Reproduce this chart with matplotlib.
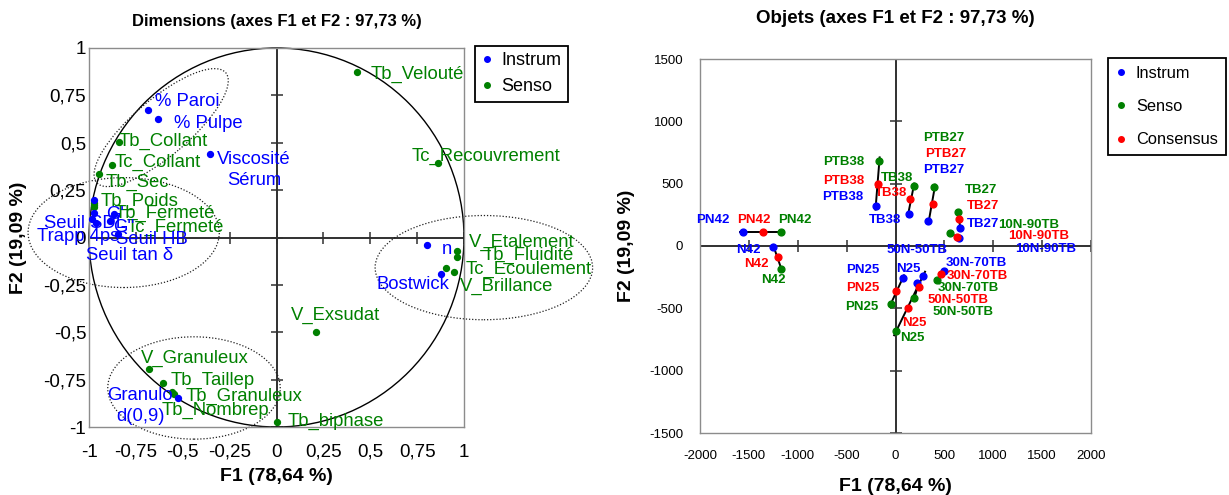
import numpy as np
import matplotlib.pyplot as plt
from matplotlib.patches import Ellipse, Circle
from matplotlib.lines import Line2D

plt.rcParams['font.family'] = ['Liberation Sans', 'DejaVu Sans']
plt.rcParams['axes.unicode_minus'] = False

BLUE = '#0000ff'
GREEN = '#008000'
RED = '#ff0000'

# ---- variables (correlation circle)
var_names = ['% Paroi', '% Pulpe', 'Viscosité\nSérum', 'Tb_Collant', 'Tc_Collant', 'Tb_Sec',
             'Tb_Poids', 'Tc_Fermeté', 'Tb_Fermeté', '', 'Seuil SDL', 'Trapp 4ps', 'Seuil tan δ',
             "G'", "G''", 'Seuil HB', 'Tb_Velouté', 'Tc_Recouvrement', 'n', 'V_Etalement',
             'Tb_Fluidité', 'Tc_Ecoulement', 'V_Brillance', 'Bostwick', 'V_Exsudat',
             'V_Granuleux', 'Tb_Taillep', 'Tb_Granuleux', 'Tb_Nombrep', 'Granulo\nd(0,9)',
             'Tb_biphase']
var_f1 = [-0.683, -0.630, -0.354, -0.841, -0.880, -0.947,
          -0.974, -0.974, -0.974, -0.974, -0.974, -0.984, -0.963,
          -0.868, -0.889, -0.843, 0.429, 0.859, 0.800, 0.963,
          0.963, 0.906, 0.949, 0.875, 0.212,
          -0.679, -0.605, -0.545, -0.560, -0.524,
          0.002]
var_f2 = [0.674, 0.624, 0.441, 0.506, 0.383, 0.337,
          0.180, 0.169, 0.159, 0.197, 0.127, 0.095, 0.074,
          0.122, 0.085, 0.016, 0.871, 0.392, -0.039, -0.072,
          -0.102, -0.160, -0.184, -0.192, -0.501,
          -0.695, -0.769, -0.824, -0.815, -0.847,
          -0.972]
var_group = ['I', 'I', 'I', 'S', 'S', 'S',
             'S', 'S', 'S', 'I', 'I', 'I', 'I',
             'I', 'I', 'I', 'S', 'S', 'I', 'S',
             'S', 'S', 'S', 'I', 'S',
             'S', 'S', 'S', 'S', 'I',
             'S']
# label offsets (pixels, label centre relative to its point)
var_offsets = [(39, 8), (50, -4), (44, -16), (44, 0), (46, 3), (38, -9),
               (46, 2), (81, -22), (71, -6), (0, 0), (-9, -10), (-14, -17), (34, -32),
               (1, 0), (14, -6), (33, -5), (60, -2), (48, 7), (20, -5), (65, 9),
               (71, 1), (82, -2), (52, -14), (-28, -11), (19, 17),
               (46, 11), (50, 3), (70, -3), (44, -18), (-38, -8),
               (59, 0)]

# ---- objects
obj_names = ['PN42', 'N42', 'PTB38', 'TB38', 'PTB27', 'TB27', '10N-90TB',
             '50N-50TB', '30N-70TB', 'PN25', 'N25']
instrum_f1 = [-1557, -1250, -203, 135, 336, 663, 653, 223, 499, 80, 278]
instrum_f2 = [110, -8, 321, 254, 200, 147, 67, -299, -198, -254, -240]
senso_f1 = [-1168, -1171, -166, 193, 397, 636, 557, 192, 427, -46, 5]
senso_f2 = [110, -187, 682, 481, 471, 275, 102, -415, -273, -468, -679]
cons_f1 = [-1352, -1199, -182, 148, 380, 650, 626, 243, 465, 5, 131]
cons_f2 = [110, -91, 495, 377, 334, 214, 75, -326, -227, -361, -495]

instrum_off = [(-30, 12), (-25, -3), (-33, 9), (-24, -6), (15, 51), (23, 4), (86, -11),
               (0, 33), (32, 8), (-41, 8), (-14, 7)]
senso_off = [(13, 12), (-8, -11), (-36, -1), (-17, 8), (9, 49), (23, 22), (79, 8),
             (49, -14), (31, -8), (-29, -3), (16, -7)]
cons_off = [(-10, 12), (-22, -7), (-34, 3), (-19, 6), (13, 50), (24, 13), (82, 1),
            (39, -13), (36, -2), (-33, 3), (6, -15)]

fig = plt.figure(figsize=(12.29, 4.95), dpi=100)
ax1 = fig.add_axes([89 / 1229, 1 - 427 / 495, 375 / 1229, 379 / 495])
ax2 = fig.add_axes([700 / 1229, 1 - 433 / 495, 391 / 1229, 374 / 495])


def frame(ax, xt, yt, ticksize, xpad, ypad):
    for s in ax.spines.values():
        s.set_color('#8c8c8c')
        s.set_linewidth(1.0)
    ax.tick_params(length=0, labelsize=ticksize)
    ax.tick_params(axis='x', pad=xpad)
    ax.tick_params(axis='y', pad=ypad)
    ax.axhline(0, color='#303030', lw=1.4, zorder=1)
    ax.axvline(0, color='#303030', lw=1.4, zorder=1)
    ax.plot(xt, np.zeros(len(xt)), ls='none', marker='|', ms=9, mew=1.1, color='#303030', zorder=1)
    ax.plot(np.zeros(len(yt)), yt, ls='none', marker='_', ms=9, mew=1.1, color='#303030', zorder=1)


# ---------- left: correlation circle
ticks1 = np.arange(-1, 1.01, 0.25)
ax1.set_xlim(-1, 1)
ax1.set_ylim(-1, 1)
frame(ax1, ticks1, ticks1, 13.5, 12, 2)
ax1.set_xticks(ticks1)
ax1.set_yticks(ticks1)
lab1 = [f'{v:g}'.replace('.', ',') for v in ticks1]
ax1.set_xticklabels(lab1)
ax1.set_yticklabels(lab1)
ax1.add_patch(Circle((0, 0), 1, fill=False, color='black', lw=1.0, clip_on=False))

ellipses = [((-0.615, 0.58), 0.9, 0.3, 40), ((-0.815, 0.026), 1.02, 0.58, 0),
            ((1.106, -0.159), 1.16, 0.55, 0), ((-0.44, -0.794), 0.92, 0.54, 0)]
for c, w, h, a in ellipses:
    ax1.add_patch(Ellipse(c, w, h, angle=a, fill=False, ls=(0, (1, 1.5)), lw=0.9,
                          color='#202020', clip_on=False))

gcol = {'I': BLUE, 'S': GREEN}
for name, x, y, g, off in zip(var_names, var_f1, var_f2, var_group, var_offsets):
    ax1.scatter(x, y, s=18, color=gcol[g], zorder=3, clip_on=False)
    if name:
        ax1.annotate(name, (x, y), xytext=off, textcoords='offset pixels', ha='center',
                     va='center', fontsize=13.3, color=gcol[g], multialignment='center',
                     linespacing=1.25, annotation_clip=False)

ax1.set_title('Dimensions (axes F1 et F2 : 97,73 %)', fontsize=12, fontweight='bold', pad=16)
ax1.set_xlabel('F1 (78,64 %)', fontsize=14, fontweight='bold', labelpad=5)
ax1.set_ylabel('F2 (19,09 %)', fontsize=14, fontweight='bold', labelpad=12)

h1 = [Line2D([], [], ls='none', marker='o', ms=4, color=BLUE),
      Line2D([], [], ls='none', marker='o', ms=4, color=GREEN)]
fig.legend(h1, ['Instrum', 'Senso'], loc='upper left', bbox_to_anchor=(475 / 1229, 1 - 46 / 495),
           fontsize=13, frameon=True, fancybox=False, edgecolor='black', handlelength=0.6,
           handletextpad=0.5, labelspacing=0.5, borderpad=0.35, borderaxespad=0,
           framealpha=1).get_frame().set_linewidth(1.3)

# ---------- right: objects
xt2 = np.arange(-2000, 2001, 500)
yt2 = np.arange(-1500, 1501, 500)
ax2.set_xlim(-2000, 2000)
ax2.set_ylim(-1500, 1500)
frame(ax2, xt2, yt2, 9.5, 12, 12)
ax2.set_xticks(xt2)
ax2.set_yticks(yt2)

for i in range(len(obj_names)):
    pts = np.array([[instrum_f1[i], instrum_f2[i]], [cons_f1[i], cons_f2[i]],
                    [senso_f1[i], senso_f2[i]]], dtype=float)
    c = pts.mean(axis=0)
    _, _, vt = np.linalg.svd(pts - c)
    d = vt[0]
    proj = (pts - c) @ d
    span = proj.max() - proj.min()
    t = np.array([proj.min() - 0.08 * span, proj.max() + 0.08 * span])
    ax2.plot(c[0] + t * d[0], c[1] + t * d[1], color='black', lw=1.4, zorder=2)

for xs, ys, col, offs in [(instrum_f1, instrum_f2, BLUE, instrum_off),
                          (senso_f1, senso_f2, GREEN, senso_off),
                          (cons_f1, cons_f2, RED, cons_off)]:
    ax2.scatter(xs, ys, s=24, color=col, zorder=3)
    for name, x, y, off in zip(obj_names, xs, ys, offs):
        ax2.annotate(name, (x, y), xytext=off, textcoords='offset pixels', ha='center',
                     va='center', fontsize=9.5, fontweight='bold', color=col)

ax2.set_title('Objets (axes F1 et F2 : 97,73 %)', fontsize=13.5, fontweight='bold', pad=26)
ax2.set_xlabel('F1 (78,64 %)', fontsize=14, fontweight='bold', labelpad=12)
ax2.set_ylabel('F2 (19,09 %)', fontsize=14, fontweight='bold', labelpad=10)

h2 = [Line2D([], [], ls='none', marker='o', ms=4, color=BLUE),
      Line2D([], [], ls='none', marker='o', ms=4, color=GREEN),
      Line2D([], [], ls='none', marker='o', ms=4, color=RED)]
fig.legend(h2, ['Instrum', 'Senso', 'Consensus'], loc='upper left',
           bbox_to_anchor=(1108 / 1229, 1 - 58 / 495), fontsize=11.8, frameon=True, fancybox=False,
           edgecolor='black', handlelength=0.6, handletextpad=0.6, labelspacing=1.1,
           borderpad=0.5, borderaxespad=0, framealpha=1).get_frame().set_linewidth(1.3)

fig.savefig('out.png', dpi=100)
